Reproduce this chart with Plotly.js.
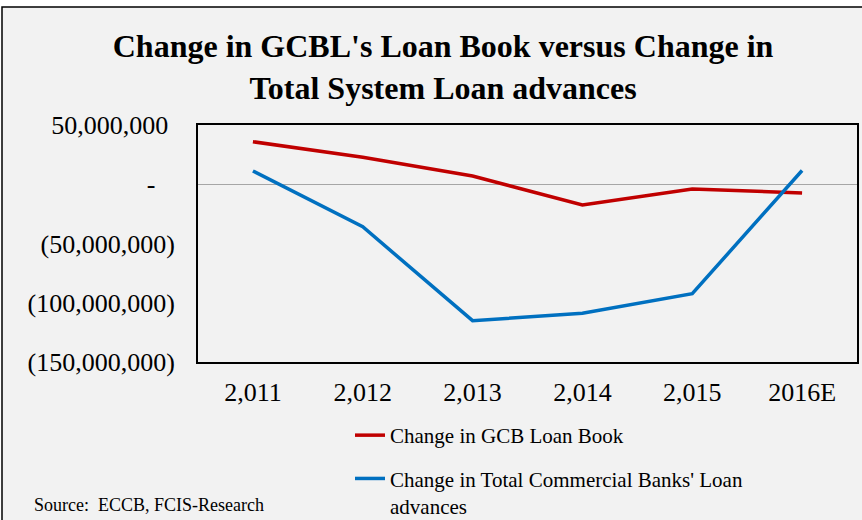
<!DOCTYPE html>
<html>
<head>
<meta charset="utf-8">
<script src="https://cdn.plot.ly/plotly-3.0.1.min.js"></script>
<style>html,body{margin:0;padding:0;background:#fff;}#chart{width:862px;height:520px;}</style>
</head>
<body>
<div id="chart"></div>
<script>
const categories = ['2,011', '2,012', '2,013', '2,014', '2,015', '2016E'];
const gcbLoanBook = [35900000, 22700000, 7000000, -17500000, -4000000, -7400000];
const totalBanksLoans = [11200000, -35900000, -115100000, -108900000, -92300000, 11600000];
const yTickVals = [50000000, 0, -50000000, -100000000, -150000000];
const yTickText = ['50,000,000\u00a0', '-\u00a0\u00a0\u00a0', '(50,000,000)', '(100,000,000)', '(150,000,000)'];
const seriesNames = ['Change in GCB Loan Book', "Change in Total Commercial Banks' Loan<br>advances"];

const serif = '"Liberation Serif", "Times New Roman", serif';

const traces = [
  {x: categories, y: gcbLoanBook, type: 'scatter', mode: 'lines', name: seriesNames[0],
   legendgroup: 'a', line: {color: '#c00000', width: 3.5}},
  {x: categories, y: totalBanksLoans, type: 'scatter', mode: 'lines', name: seriesNames[1],
   legendgroup: 'b', line: {color: '#0070c0', width: 3.5}}
];

const layout = {
  width: 862, height: 520,
  margin: {l: 198, r: 5, t: 125, b: 158, autoexpand: false},
  paper_bgcolor: '#ffffff',
  plot_bgcolor: 'rgba(0,0,0,0)',
  font: {family: serif, color: '#000'},
  title: {
    text: "<b>Change in GCBL's Loan Book versus Change in<br>Total System Loan advances</b>",
    font: {family: serif, size: 32, color: '#000'},
    xref: 'container', x: 0.514, xanchor: 'center',
    yref: 'container', y: 1 - 57/520, yanchor: 'middle'
  },
  xaxis: {
    type: 'category', range: [-0.5, 5.5], showgrid: false, zeroline: false,
    showline: true, mirror: true, linecolor: '#000', linewidth: 2,
    ticks: '', tickfont: {family: serif, size: 26, color: '#000'},
    ticklabelstandoff: 6
  },
  yaxis: {
    range: [-150000000, 50000000], showgrid: false,
    zeroline: true, zerolinecolor: '#a6a6a6', zerolinewidth: 1.5,
    showline: true, mirror: true, linecolor: '#000', linewidth: 2,
    tickvals: yTickVals, ticktext: yTickText, ticks: '',
    tickfont: {family: serif, size: 26, color: '#000'},
    ticklabelstandoff: 16
  },
  legend: {
    x: (350 - 198) / 659, xanchor: 'left',
    y: (362 - 415) / 237, yanchor: 'top',
    bgcolor: 'rgba(0,0,0,0)',
    font: {family: serif, size: 21, color: '#000'},
    tracegroupgap: 13, valign: 'top', traceorder: 'grouped'
  },
  showlegend: true,
  shapes: [{
    type: 'rect', xref: 'paper', yref: 'paper', layer: 'below',
    x0: (2 - 198) / 659, x1: (875 - 198) / 659,
    y0: (362 - 535) / 237, y1: (362 - 7) / 237,
    fillcolor: '#f2f2f2', line: {color: '#000', width: 1.5}
  }],
  annotations: [{
    text: 'Source:  ECCB, FCIS-Research', showarrow: false,
    xref: 'paper', yref: 'paper', xanchor: 'left', yanchor: 'middle',
    x: (32 - 198) / 659, y: (362 - 505) / 237,
    font: {family: serif, size: 18, color: '#000'}
  }]
};

Plotly.newPlot('chart', traces, layout, {displayModeBar: false, staticPlot: true});
</script>
</body>
</html>
